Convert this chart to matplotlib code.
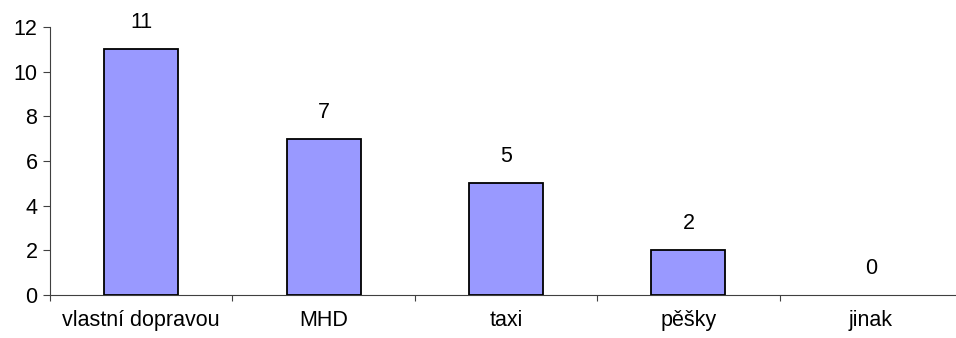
import matplotlib
matplotlib.use("Agg")
import matplotlib.pyplot as plt
import numpy as np

categories = ["vlastní dopravou", "MHD", "taxi", "pěšky", "jinak"]
values = [11, 7, 5, 2, 0]
yticks = [0, 2, 4, 6, 8, 10, 12]

plt.rcParams['font.family'] = ['Liberation Sans', 'DejaVu Sans']

fig = plt.figure(figsize=(9.56, 3.38), dpi=100)
ax = fig.add_axes([50/956, (338-295)/338, 912/956, 268/338])

x = np.arange(len(categories))
lws = [1.3 if v > 0 else 0 for v in values]
bars = ax.bar(x, values, width=0.405, color="#9999FF", edgecolor="black", linewidth=lws, zorder=3)
for xi, v in zip(x, values):
    ax.annotate(str(v), (xi, v), xytext=(0, 19), textcoords="offset points",
                ha="center", va="center", fontsize=15.5)

ax.set_xlim(-0.5, len(categories) - 0.5)
ax.set_ylim(0, 12)
ax.set_yticks(yticks)
ax.set_yticklabels([str(t) for t in yticks])
ax.set_xticks(np.arange(len(categories) + 1) - 0.5)
ax.set_xticklabels([])
ax.set_xticks(x, minor=True)
ax.set_xticklabels(categories, minor=True)
ax.tick_params(axis="x", which="major", length=4, width=0.8, color="#404040", direction="out")
ax.tick_params(axis="x", which="minor", length=0, pad=11, labelsize=15.5)
ax.tick_params(axis="y", length=5, width=0.8, color="#404040", direction="out", pad=4, labelsize=15.5)

for s in ["top", "right"]:
    ax.spines[s].set_visible(False)
for s in ["left", "bottom"]:
    ax.spines[s].set_color("#404040")
    ax.spines[s].set_linewidth(0.8)

fig.savefig("out.png", dpi=100)
